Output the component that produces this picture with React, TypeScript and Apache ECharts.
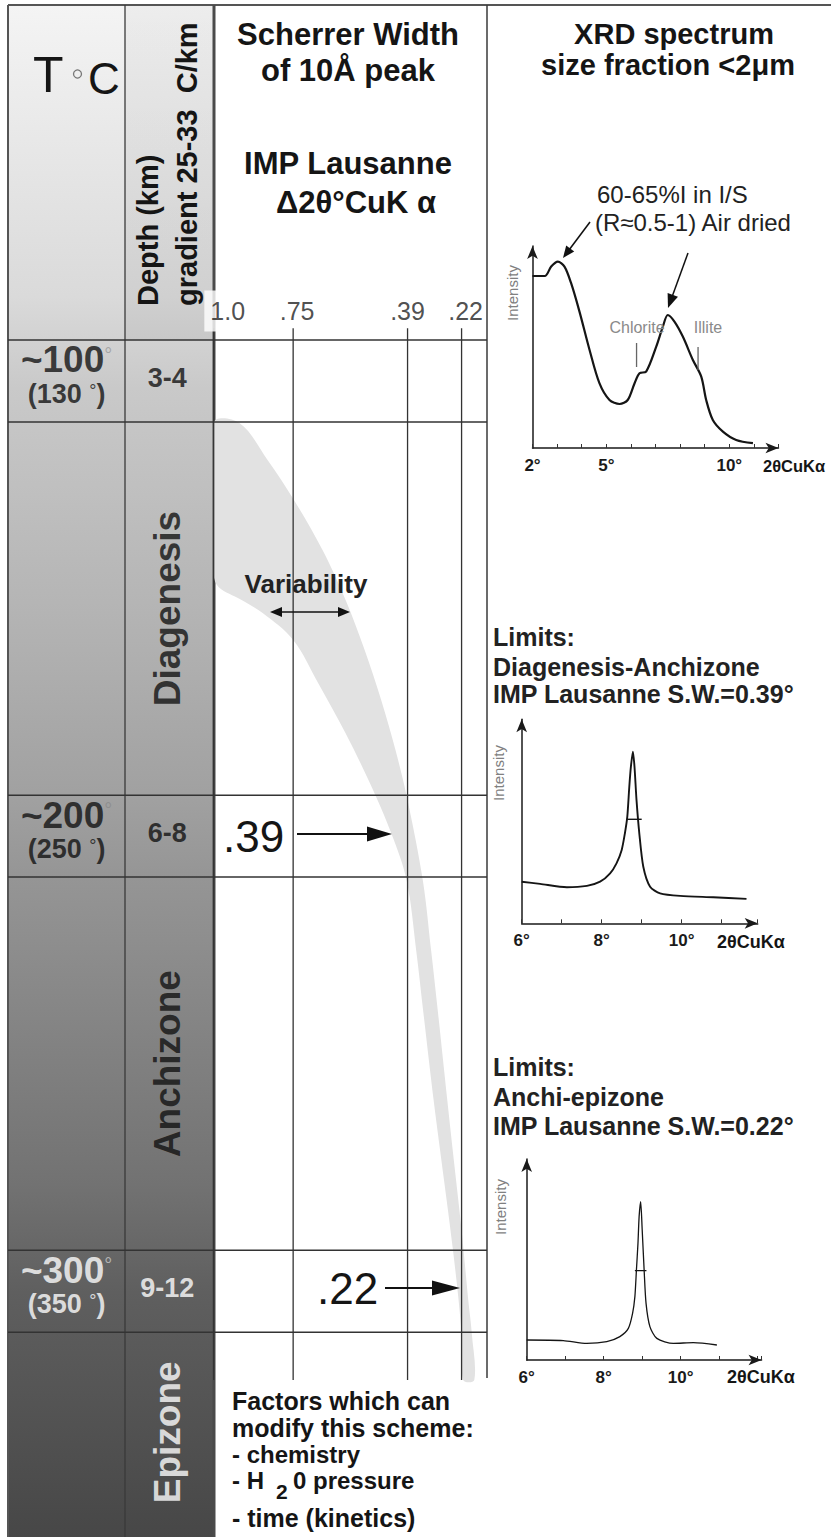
import React, { useEffect, useRef } from 'react';
import * as echarts from 'echarts';

const FONT = '"Liberation Sans", Arial, Helvetica, sans-serif';

// ---------- Scherrer width scale (Δ2θ° CuKα) ----------
const swTickValues = [1.0, 0.75, 0.39, 0.22];
const swTickLabels = ['1.0', '.75', '.39', '.22'];

// ---------- temperature rows (°C) ----------
const rowBoundsT = [91, 109, 191, 209, 291, 309];
const rowCenterT = [100, 200, 300];
const rowTemp = ['~100', '~200', '~300'];
const rowTempAlt = ['130', '250', '350'];
const rowDepth = ['3-4', '6-8', '9-12'];
const zoneNames = ['Diagenesis', 'Anchizone', 'Epizone'];
const zoneCenterT = [150, 250, 331];

// ---------- variability band (SW value vs T) ----------
const bandRightSW = [0.92, 0.83, 0.747, 0.658, 0.585, 0.525, 0.473, 0.428, 0.39, 0.342, 0.316, 0.294, 0.265, 0.249, 0.22, 0.199, 0.188, 0.18];
const bandRightT = [109.2, 117.4, 126.2, 137.1, 148.1, 159.1, 170.1, 181.1, 192.1, 209.7, 225.0, 238.9, 258.0, 268.3, 286.6, 301.9, 309.2, 319.5];
const bandLeftSW = [1.0, 1.0, 0.984, 0.915, 0.846, 0.75, 0.671, 0.585, 0.509, 0.44, 0.393, 0.363, 0.34, 0.308, 0.289, 0.247, 0.22, 0.215];
const bandLeftT = [109.2, 142.6, 145.3, 148.0, 151.0, 156.9, 166.4, 177.4, 188.3, 199.6, 209.7, 225.0, 238.9, 258.0, 268.3, 291.0, 309.2, 319.5];

// ---------- XRD spectrum 1 (2θ°, intensity) ----------
const xrd1Deg = [2.0, 2.5, 2.76, 3.03, 3.3, 3.57, 3.91, 4.32, 4.72, 5.13, 5.54, 5.87, 6.15, 6.35, 6.62, 7.03, 7.3, 7.5, 7.77, 8.11, 8.52, 8.86, 9.06, 9.33, 9.74, 10.28, 10.96];
const xrd1Int = [86, 86, 90.7, 93.2, 90.7, 82.4, 68.2, 49, 32.4, 24, 22, 24, 32.4, 37.4, 38.2, 50.7, 60.7, 66.5, 63.2, 55.7, 44, 35.7, 24, 14, 8.2, 4, 2.4];
const xrd1Labels = [2, 5, 10];
const peakNames = ['Chlorite', 'Illite'];
const peakMarkDeg = [6.23, 8.73];
const peakMarkTop = [52.5, 50.5];
const peakMarkBottom = [40.5, 39];

// ---------- XRD spectrum 2 ----------
const xrd2Deg = [6.0, 6.46, 7.13, 7.63, 7.96, 8.21, 8.37, 8.5, 8.58, 8.64, 8.69, 8.73, 8.78, 8.82, 8.87, 8.94, 9.04, 9.21, 9.46, 9.96, 10.79, 11.62];
const xrd2Int = [20.8, 19.7, 18, 18.7, 20.8, 25, 30, 36.7, 45, 53.3, 68.3, 78.3, 85.8, 78.3, 61.7, 45, 28.3, 18.3, 15, 13.7, 13, 12.2];
const xrd2HalfDeg = [8.62, 9.0];
const xrd2HalfInt = 52;

// ---------- XRD spectrum 3 ----------
const xrd3Deg = [6.0, 6.95, 7.56, 8.08, 8.42, 8.64, 8.75, 8.81, 8.85, 8.89, 8.92, 8.96, 9.0, 9.05, 9.1, 9.2, 9.38, 9.81, 10.33, 10.94];
const xrd3Int = [10, 9.7, 8.3, 9.2, 11.7, 15.8, 23.3, 31.7, 45, 58.3, 71.7, 79.2, 65, 45, 28.3, 16.7, 10.8, 8.3, 8.7, 7.5];
const xrd3HalfDeg = [8.81, 9.11];
const xrd3HalfInt = 44.7;
const xrdLabels23 = [6, 8, 10];

// ---------- layout constants ----------
const SW_MIN = 0.14;
const SW_MAX = 1.6473;
const T_MIN = 80;
const T_MAX = 354;
const COL1_V = 1.463;
const COL2_V = 1.146;
const TICK_LABEL_T = 84.6;
const VLINE_TOP_T = 88.4;
const VLINE_BOT_T = 319.5;
const tickLabelOffset = [14, 4, 0, 4];
const rowTextColor = ['#111', '#111', '#fff'];
const rowDegColor = ['#9a9a9a', '#8a8a8a', '#c8c8c8'];
const zoneTextColor = ['#111', '#111', '#fff'];

function txt(x: number, y: number, text: string, size: number, o: any = {}) {
  return {
    type: 'text', x, y, z: 20, silent: true, rotation: o.rot || 0,
    style: {
      text, fontSize: size, fontFamily: FONT, fontWeight: o.bold ? 'bold' : 'normal',
      fill: o.color || '#151515', align: o.align || 'left', verticalAlign: 'middle',
    },
  };
}
function ln(x1: number, y1: number, x2: number, y2: number, w: number, color = '#3a3a3a', z = 1) {
  return { type: 'line', z, silent: true, shape: { x1, y1, x2, y2 }, style: { stroke: color, lineWidth: w } };
}
function head(fx: number, fy: number, tx: number, ty: number, len: number, hw: number) {
  const dx = tx - fx, dy = ty - fy, L = Math.hypot(dx, dy);
  const ux = dx / L, uy = dy / L;
  const bx = tx - ux * len, by = ty - uy * len;
  const px = -uy, py = ux;
  return {
    type: 'polygon', z: 20, silent: true,
    shape: { points: [[tx, ty], [bx + px * hw, by + py * hw], [bx - px * hw, by - py * hw]] },
    style: { fill: '#111' },
  };
}
function arrow(fx: number, fy: number, tx: number, ty: number, len: number, hw: number, lw: number) {
  const dx = tx - fx, dy = ty - fy, L = Math.hypot(dx, dy);
  const bx = tx - (dx / L) * (len - 2), by = ty - (dy / L) * (len - 2);
  return [ln(fx, fy, bx, by, lw, '#111', 20), head(fx, fy, tx, ty, len, hw)];
}

function buildOption() {
  const axisLineArrow = {
    show: true, onZero: false, lineStyle: { color: '#1a1a1a', width: 1.5 },
    symbol: ['none', 'arrow'], symbolSize: [8, 13],
  };
  const xrdX = (gridIndex: number, min: number, max: number, shown: number[]) => ({
    type: 'value', gridIndex, min, max, interval: 1,
    axisLine: axisLineArrow,
    axisTick: { show: true, inside: true, length: 4, lineStyle: { color: '#333', width: 1 } },
    axisLabel: {
      show: true, margin: 9, fontSize: 17, fontWeight: 'bold', color: '#1a1a1a', fontFamily: FONT,
      formatter: (v: number) => (shown.indexOf(v) >= 0 ? v + '°' : ''),
    },
    splitLine: { show: false },
  });
  const xrdY = (gridIndex: number, max: number) => ({
    type: 'value', gridIndex, min: 0, max,
    axisLine: axisLineArrow, axisTick: { show: false }, axisLabel: { show: false }, splitLine: { show: false },
  });

  const series: any[] = [];

  // variability band
  const bandPts: number[][] = [];
  bandRightSW.forEach((v, i) => bandPts.push([v, bandRightT[i]]));
  for (let i = bandLeftSW.length - 1; i >= 0; i--) bandPts.push([bandLeftSW[i], bandLeftT[i]]);
  series.push({
    type: 'custom', xAxisIndex: 0, yAxisIndex: 0, z: 2, silent: true, clip: true,
    data: [[0.5, 200]],
    renderItem: (_p: any, api: any) => {
      const pts = bandPts.map((p) => api.coord(p));
      const xLeft = api.coord([1.0, 200])[0];
      return {
        type: 'polygon',
        shape: { points: pts, smooth: 0.35, smoothConstraint: [[xLeft, -10000], [10000, 10000]] },
        style: { fill: '#e2e2e2' },
      };
    },
  });

  // row lines
  rowBoundsT.forEach((t) => {
    series.push({
      type: 'line', xAxisIndex: 0, yAxisIndex: 0, z: 3, silent: true, symbol: 'none',
      data: [[SW_MAX, t], [SW_MIN, t]], lineStyle: { color: '#333', width: 1.5 },
    });
  });
  // vertical SW grid lines
  swTickValues.forEach((v) => {
    series.push({
      type: 'line', xAxisIndex: 0, yAxisIndex: 0, z: 3, silent: true, symbol: 'none',
      data: [[v, VLINE_TOP_T], [v, VLINE_BOT_T]], lineStyle: { color: '#333', width: 1.3 },
    });
  });
  // SW tick labels
  series.push({
    type: 'scatter', xAxisIndex: 0, yAxisIndex: 0, z: 6, silent: true, symbolSize: 1,
    itemStyle: { color: 'rgba(0,0,0,0)' },
    data: swTickValues.map((v, i) => ({
      value: [v, TICK_LABEL_T],
      label: i === 0
        ? { offset: [tickLabelOffset[i], 0], backgroundColor: '#ffffff', padding: [9, 6, 7, 6] }
        : { offset: [tickLabelOffset[i], 0] },
    })),
    label: {
      show: true, position: 'inside', fontSize: 25, color: '#222', fontFamily: FONT,
      formatter: (p: any) => swTickLabels[p.dataIndex],
    },
  });
  // temperature labels
  series.push({
    type: 'scatter', xAxisIndex: 0, yAxisIndex: 0, z: 6, silent: true, symbolSize: 1,
    itemStyle: { color: 'rgba(0,0,0,0)' },
    data: rowCenterT.map((t, i) => ({
      value: [COL1_V, t],
      label: {
        color: rowTextColor[i],
        rich: {
          big: { fontSize: 37, fontWeight: 'bold', lineHeight: 34, fontFamily: FONT, color: rowTextColor[i] },
          deg: { fontSize: 20, lineHeight: 34, fontFamily: FONT, color: rowDegColor[i], padding: [0, 0, 10, 0] },
          sm: { fontSize: 27, fontWeight: 'bold', lineHeight: 34, fontFamily: FONT, color: rowTextColor[i] },
          sdeg: { fontSize: 18, lineHeight: 34, fontFamily: FONT, color: rowTextColor[i], padding: [0, 0, 6, 0] },
        },
      },
    })),
    label: {
      show: true, position: 'inside', offset: [0, -4], align: 'center',
      formatter: (p: any) => `{big|${rowTemp[p.dataIndex]}}{deg|°}\n{sm|(${rowTempAlt[p.dataIndex]} }{sdeg|°}{sm|)}`,
    },
  });
  // depth labels
  series.push({
    type: 'scatter', xAxisIndex: 0, yAxisIndex: 0, z: 6, silent: true, symbolSize: 1,
    itemStyle: { color: 'rgba(0,0,0,0)' },
    data: rowCenterT.map((t, i) => ({ value: [COL2_V, t], label: { color: rowTextColor[i] } })),
    label: {
      show: true, position: 'inside', offset: [0, -3], fontSize: 27, fontWeight: 'bold', fontFamily: FONT,
      formatter: (p: any) => rowDepth[p.dataIndex],
    },
  });
  // zone labels
  series.push({
    type: 'scatter', xAxisIndex: 0, yAxisIndex: 0, z: 6, silent: true, symbolSize: 1,
    itemStyle: { color: 'rgba(0,0,0,0)' },
    data: zoneCenterT.map((t, i) => ({ value: [COL2_V, t], label: { color: zoneTextColor[i] } })),
    label: {
      show: true, position: 'inside', rotate: 90, fontSize: 37, fontWeight: 'bold', fontFamily: FONT,
      formatter: (p: any) => zoneNames[p.dataIndex],
    },
  });

  // XRD curves
  series.push({
    type: 'line', xAxisIndex: 1, yAxisIndex: 1, z: 5, silent: true, symbol: 'none', smooth: 0.3,
    data: xrd1Deg.map((d, i) => [d, xrd1Int[i]]), lineStyle: { color: '#151515', width: 2.2 },
  });
  peakMarkDeg.forEach((d, i) => {
    series.push({
      type: 'line', xAxisIndex: 1, yAxisIndex: 1, z: 5, silent: true, symbol: 'none',
      data: [[d, peakMarkBottom[i]], [d, peakMarkTop[i]]], lineStyle: { color: '#666', width: 1.3 },
    });
  });
  series.push({
    type: 'line', xAxisIndex: 2, yAxisIndex: 2, z: 5, silent: true, symbol: 'none', smooth: 0.25,
    data: xrd2Deg.map((d, i) => [d, xrd2Int[i]]), lineStyle: { color: '#151515', width: 1.9 },
  });
  series.push({
    type: 'line', xAxisIndex: 2, yAxisIndex: 2, z: 5, silent: true, symbol: 'none',
    data: xrd2HalfDeg.map((d) => [d, xrd2HalfInt]), lineStyle: { color: '#151515', width: 1.4 },
  });
  series.push({
    type: 'line', xAxisIndex: 3, yAxisIndex: 3, z: 5, silent: true, symbol: 'none', smooth: 0.25,
    data: xrd3Deg.map((d, i) => [d, xrd3Int[i]]), lineStyle: { color: '#151515', width: 1.3 },
  });
  series.push({
    type: 'line', xAxisIndex: 3, yAxisIndex: 3, z: 5, silent: true, symbol: 'none',
    data: xrd3HalfDeg.map((d) => [d, xrd3HalfInt]), lineStyle: { color: '#151515', width: 1.3 },
  });

  const colGradient = new echarts.graphic.LinearGradient(0, 0, 0, 1, [
    { offset: 0, color: '#f4f4f4' },
    { offset: 0.19, color: '#dadada' },
    { offset: 0.25, color: '#c9c9c9' },
    { offset: 0.39, color: '#b5b5b5' },
    { offset: 0.52, color: '#a0a0a0' },
    { offset: 0.57, color: '#959595' },
    { offset: 0.77, color: '#727272' },
    { offset: 0.84, color: '#5f5f5f' },
    { offset: 1, color: '#474747' },
  ]);

  const graphic: any[] = [
    { type: 'rect', z: 0, silent: true, shape: { x: 8, y: 5, width: 206, height: 1532 }, style: { fill: colGradient } },
    { type: 'rect', z: 0, silent: true, shape: { x: 125, y: 5, width: 88, height: 335 },
      style: { fill: new echarts.graphic.LinearGradient(0, 0, 0, 1, [{ offset: 0, color: 'rgba(0,0,0,0.03)' }, { offset: 1, color: 'rgba(0,0,0,0.05)' }]) } },
    ln(8, 5, 831, 5, 2, '#555'),
    ln(8, 5, 8, 1537, 2, '#555'),
    ln(125, 5, 125, 1537, 1.3, '#3a3a3a'),
    ln(214, 5, 214, 1537, 3, '#4a4a4a'),
    ln(487, 5, 487, 1378, 1.5, '#3a3a3a'),

    // header left
    txt(33, 75, 'T', 50),
    { type: 'circle', z: 20, silent: true, shape: { cx: 77.5, cy: 74, r: 4 }, style: { fill: 'none', stroke: '#777', lineWidth: 1.3 } },
    txt(88, 78, 'C', 44),
    txt(148, 306, 'Depth (km)', 29, { bold: true, rot: Math.PI / 2 }),
    txt(187, 306, 'gradient 25-33  C/km', 29, { bold: true, rot: Math.PI / 2 }),

    // header middle
    txt(348, 34, 'Scherrer Width', 31, { bold: true, align: 'center' }),
    txt(348, 70, 'of 10Å peak', 31, { bold: true, align: 'center' }),
    txt(348, 163, 'IMP Lausanne', 31, { bold: true, align: 'center' }),
    txt(356, 202, 'Δ2θ°CuK α', 31, { bold: true, align: 'center' }),

    // header right
    txt(674, 34, 'XRD spectrum', 29, { bold: true, align: 'center' }),
    txt(668, 65, 'size fraction <2μm', 29, { bold: true, align: 'center' }),

    // XRD 1 annotations
    txt(597, 194, '60-65%I in I/S', 24, { color: '#222' }),
    txt(595, 222, '(R≈0.5-1) Air dried', 24, { color: '#222' }),
    ...arrow(590, 222, 563, 258, 12, 5, 1.5),
    ...arrow(688, 253, 668, 308, 14, 5.5, 1.5),
    txt(637, 327, peakNames[0], 16, { color: '#8a8a8a', align: 'center' }),
    txt(708, 327, peakNames[1], 16, { color: '#8a8a8a', align: 'center' }),
    txt(512, 293, 'Intensity', 15, { color: '#808080', align: 'center', rot: Math.PI / 2 }),
    txt(763, 466, '2θCuKα', 16.5, { bold: true }),

    // XRD 2 annotations
    txt(493, 637, 'Limits:', 25, { bold: true, color: '#222' }),
    txt(493, 667, 'Diagenesis-Anchizone', 25, { bold: true, color: '#222' }),
    txt(493, 694, 'IMP Lausanne S.W.=0.39°', 25, { bold: true, color: '#222' }),
    txt(498, 773, 'Intensity', 15, { color: '#808080', align: 'center', rot: Math.PI / 2 }),
    txt(717, 942, '2θCuKα', 18, { bold: true }),

    // XRD 3 annotations
    txt(493, 1067, 'Limits:', 25, { bold: true, color: '#222' }),
    txt(493, 1097, 'Anchi-epizone', 25, { bold: true, color: '#222' }),
    txt(493, 1126, 'IMP Lausanne S.W.=0.22°', 25, { bold: true, color: '#222' }),
    txt(500, 1207, 'Intensity', 15, { color: '#808080', align: 'center', rot: Math.PI / 2 }),
    txt(727, 1377, '2θCuKα', 18, { bold: true }),

    // limit arrows in table
    txt(223, 836, '.39', 44),
    ...arrow(297, 834, 392, 834, 25, 7.5, 2),
    txt(317, 1288, '.22', 44),
    ...arrow(385, 1288, 460, 1288, 28, 7.5, 2),

    // variability
    txt(306, 584, 'Variability', 26, { bold: true, align: 'center', color: '#222' }),
    ln(276, 612, 344, 612, 1.5, '#111', 20),
    head(350, 612, 270, 612, 12, 5),
    head(270, 612, 350, 612, 12, 5),

    // factors
    txt(232, 1401, 'Factors which can', 25, { bold: true }),
    txt(232, 1428, 'modify this scheme:', 25, { bold: true }),
    txt(232, 1454, '- chemistry', 24, { bold: true }),
    txt(232, 1480, '- H', 24, { bold: true }),
    txt(276, 1491, '2', 21, { bold: true }),
    txt(293, 1480, '0 pressure', 24, { bold: true }),
    txt(232, 1518, '- time (kinetics)', 25, { bold: true }),
  ];

  return {
    animation: false,
    backgroundColor: '#ffffff',
    grid: [
      { left: 8, top: 289.94, width: 479, height: 1247.06 },
      { left: 532.5, top: 246, width: 246, height: 202 },
      { left: 521.7, top: 719.3, width: 236, height: 204 },
      { left: 526.7, top: 1159, width: 234.85, height: 201 },
    ],
    xAxis: [
      { type: 'value', gridIndex: 0, min: SW_MIN, max: SW_MAX, inverse: true, show: false },
      xrdX(1, 2, 12, xrd1Labels),
      xrdX(2, 6, 11.9, xrdLabels23),
      xrdX(3, 6, 12.1, xrdLabels23),
    ],
    yAxis: [
      { type: 'value', gridIndex: 0, min: T_MIN, max: T_MAX, inverse: true, show: false },
      xrdY(1, 101),
      xrdY(2, 102),
      xrdY(3, 100.5),
    ],
    series,
    graphic,
  };
}

export default function App() {
  const ref = useRef<HTMLDivElement>(null);
  useEffect(() => {
    const chart = echarts.init(ref.current as HTMLDivElement, null, { renderer: 'svg' });
    chart.setOption(buildOption() as any);
    return () => chart.dispose();
  }, []);
  return (
    <div
      ref={ref}
      style={{ position: 'absolute', left: 0, top: 0, width: 831, height: 1537, background: '#fff' }}
    />
  );
}
